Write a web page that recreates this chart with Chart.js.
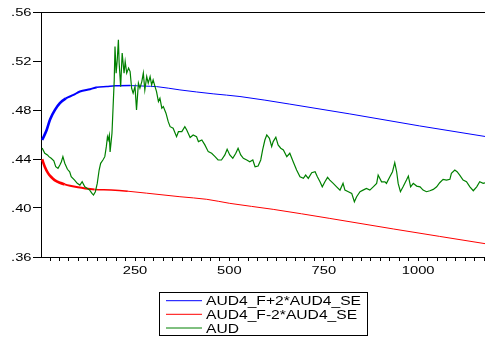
<!DOCTYPE html>
<html>
<head>
<meta charset="utf-8">
<script src="https://cdn.jsdelivr.net/npm/chart.js@4.4.1/dist/chart.umd.min.js"></script>
<style>
  html, body { margin: 0; padding: 0; background: #fff; }
  canvas { display: block; }
</style>
</head>
<body>
<canvas id="c" width="485" height="338"></canvas>
<script>
// Axis ticks
const xTickLabels = [250, 500, 750, 1000];
const yTickValues = [0.36, 0.40, 0.44, 0.48, 0.52, 0.56];

// Series names and colours
const seriesNames = ['AUD4_F+2*AUD4_SE', 'AUD4_F-2*AUD4_SE', 'AUD'];
const seriesColors = ['#0000ff', '#ff0000', '#008000'];

// Upper band: forecast + 2 s.e.
const upperIdx  = [4, 16, 25, 38, 51, 67, 87, 104, 131, 149, 175, 197, 237, 276, 307, 369, 457, 528, 660, 819, 1004, 1177];
const upperVals = [0.4555, 0.4637, 0.4723, 0.4801, 0.4856, 0.4895, 0.4923, 0.4951, 0.4970, 0.4985, 0.4991, 0.4997,
                   0.4999, 0.4995, 0.4991, 0.4964, 0.4932, 0.4910, 0.4848, 0.4768, 0.4670, 0.4584];

// Lower band: forecast - 2 s.e.
const lowerIdx  = [4, 11, 20, 28, 37, 51, 64, 78, 99, 118, 143, 187, 231, 281, 369, 440, 501, 616, 766, 934, 1057, 1177];
const lowerVals = [0.4398, 0.4337, 0.4283, 0.4253, 0.4228, 0.4206, 0.4193, 0.4182, 0.4169, 0.4160, 0.4152, 0.4147,
                   0.4137, 0.4121, 0.4092, 0.4071, 0.4038, 0.3989, 0.3915, 0.3829, 0.3768, 0.3709];

// Observed AUD
const audIdx = [
  4, 11, 18, 22, 28, 35, 40, 46, 51, 55,
  59, 64, 71, 77, 81, 90, 97, 104, 110, 117,
  124, 130, 136, 140, 145, 150, 155, 159, 165, 170,
  174, 177, 179, 182, 184, 189, 192, 195, 197, 200,
  203, 206, 208, 212, 216, 221, 224, 228, 233, 237,
  241, 245, 250, 254, 259, 263, 268, 272, 276, 281,
  285, 290, 294, 298, 303, 307, 312, 316, 321, 325,
  332, 338, 343, 351, 360, 365, 374, 382, 387, 396,
  404, 413, 418, 427, 435, 444, 453, 462, 470, 479,
  488, 494, 501, 509, 517, 523, 530, 537, 546, 554,
  562, 568, 576, 583, 588, 594, 599, 606, 612, 616,
  623, 629, 636, 643, 652, 660, 669, 678, 687, 696,
  702, 709, 718, 727, 733, 740, 746, 753, 760, 766,
  775, 784, 793, 801, 806, 815, 824, 831, 837, 846,
  854, 863, 872, 881, 890, 894, 903, 912, 916, 925,
  932, 938, 943, 947, 953, 960, 969, 974, 980, 987,
  996, 1005, 1013, 1022, 1031, 1040, 1049, 1057, 1066, 1075,
  1084, 1088, 1097, 1103, 1110, 1119, 1128, 1137, 1146, 1155,
  1163, 1172, 1177
];
const audVals = [
  0.4490, 0.4447, 0.4433, 0.4419, 0.4406, 0.4386, 0.4337, 0.4324, 0.4351, 0.4378,
  0.4419, 0.4365, 0.4316, 0.4296, 0.4255, 0.4228, 0.4201, 0.4187, 0.4214, 0.4173,
  0.4160, 0.4146, 0.4119, 0.4106, 0.4133, 0.4201, 0.4310, 0.4365, 0.4392, 0.4419,
  0.4501, 0.4580, 0.4555, 0.4596, 0.4457, 0.4610, 0.4828, 0.5046, 0.5319, 0.5101,
  0.5210, 0.5373, 0.5183, 0.4991, 0.5265, 0.5101, 0.5196, 0.5101, 0.5142, 0.5114,
  0.4978, 0.4937, 0.4991, 0.4801, 0.5019, 0.4978, 0.5032, 0.5101, 0.4964, 0.5073,
  0.5019, 0.5073, 0.5005, 0.5046, 0.4991, 0.4950, 0.4869, 0.4896, 0.4815, 0.4828,
  0.4774, 0.4705, 0.4664, 0.4651, 0.4582, 0.4623, 0.4623, 0.4664, 0.4637, 0.4576,
  0.4596, 0.4582, 0.4542, 0.4555, 0.4515, 0.4460, 0.4447, 0.4419, 0.4392, 0.4392,
  0.4433, 0.4479, 0.4433, 0.4406, 0.4447, 0.4488, 0.4433, 0.4406, 0.4392, 0.4378,
  0.4392, 0.4337, 0.4343, 0.4392, 0.4474, 0.4555, 0.4596, 0.4569, 0.4501, 0.4542,
  0.4578, 0.4515, 0.4488, 0.4474, 0.4419, 0.4447, 0.4378, 0.4310, 0.4255, 0.4242,
  0.4269, 0.4242, 0.4288, 0.4296, 0.4255, 0.4214, 0.4173, 0.4214, 0.4250, 0.4228,
  0.4201, 0.4173, 0.4146, 0.4201, 0.4146, 0.4133, 0.4119, 0.4051, 0.4092, 0.4133,
  0.4146, 0.4160, 0.4146, 0.4173, 0.4201, 0.4269, 0.4214, 0.4214, 0.4201, 0.4255,
  0.4296, 0.4370, 0.4296, 0.4201, 0.4133, 0.4173, 0.4228, 0.4261, 0.4173, 0.4201,
  0.4179, 0.4173, 0.4146, 0.4133, 0.4141, 0.4152, 0.4173, 0.4206, 0.4234, 0.4228,
  0.4234, 0.4283, 0.4310, 0.4296, 0.4269, 0.4228, 0.4214, 0.4173, 0.4141, 0.4173,
  0.4214, 0.4201, 0.4206
];

const X_MIN = 1, X_MAX = 1177;

function pairs(xs, ys) {
  return xs.map((x, i) => ({ x: x, y: ys[i] }));
}

// The band curves are drawn heavier over the first observations
function bandWidth(ctx) {
  const x = ctx.p0.parsed.x;
  return x < 60 ? 2.6 : x < 140 ? 2.0 : x < 230 ? 1.5 : 1;
}

// Minor tick marks every 25 observations
const minorTicks = [];
for (let v = 25; v < X_MAX; v += 25) minorTicks.push(v);

// Text in this chart is set wide, so it is drawn with a horizontal stretch
function drawStretched(ctx, text, x, y, align, sx) {
  ctx.save();
  ctx.translate(x, y);
  ctx.scale(sx, 1);
  ctx.textAlign = align;
  ctx.fillText(text, 0, 0);
  ctx.restore();
}

const FONT = '"Liberation Sans", Arial, Helvetica, sans-serif';

const decorPlugin = {
  id: 'decor',
  afterDraw(chart) {
    const ctx = chart.ctx;
    const a = chart.chartArea;
    const xs = chart.scales.x, ys = chart.scales.y;
    ctx.save();

    // top edge of the frame
    ctx.strokeStyle = '#000';
    ctx.lineWidth = 1;
    ctx.beginPath();
    ctx.moveTo(a.left, Math.round(a.top) + 0.5);
    ctx.lineTo(a.right, Math.round(a.top) + 0.5);
    ctx.stroke();

    // tick labels
    ctx.fillStyle = '#000';
    ctx.font = '11.5px ' + FONT;
    ctx.textBaseline = 'alphabetic';
    yTickValues.forEach(v => {
      const py = ys.getPixelForValue(v);
      drawStretched(ctx, v.toFixed(2).replace(/^0/, ''), 31.5, py + 4.1, 'right', 1.28);
    });
    xTickLabels.forEach(v => {
      const px = xs.getPixelForValue(v);
      drawStretched(ctx, String(v), px, 273.5, 'center', 1.28);
    });

    // legend box
    const box = { x: 159.5, y: 292.5, w: 208, h: 43 };
    ctx.strokeStyle = '#000';
    ctx.lineWidth = 1;
    ctx.strokeRect(box.x, box.y, box.w, box.h);
    ctx.font = '12.5px ' + FONT;
    const rows = [300.7, 314.3, 328.0];
    chart.data.datasets.forEach((ds, i) => {
      const ry = rows[i];
      ctx.strokeStyle = ds.borderColor;
      ctx.lineWidth = 1;
      ctx.beginPath();
      ctx.moveTo(166, ry);
      ctx.lineTo(202, ry);
      ctx.stroke();
      ctx.fillStyle = '#000';
      drawStretched(ctx, ds.label, 206, ry + 4.5, 'left', 1.25);
    });

    ctx.restore();
  }
};

new Chart(document.getElementById('c'), {
  type: 'line',
  data: {
    datasets: [
      {
        label: seriesNames[0],
        data: pairs(upperIdx, upperVals),
        borderColor: seriesColors[0],
        borderWidth: 1,
        pointRadius: 0,
        cubicInterpolationMode: 'monotone',
        segment: { borderWidth: bandWidth },
        order: 1
      },
      {
        label: seriesNames[1],
        data: pairs(lowerIdx, lowerVals),
        borderColor: seriesColors[1],
        borderWidth: 1,
        pointRadius: 0,
        cubicInterpolationMode: 'monotone',
        segment: { borderWidth: bandWidth },
        order: 2
      },
      {
        label: seriesNames[2],
        data: pairs(audIdx, audVals),
        borderColor: seriesColors[2],
        borderWidth: 1.2,
        pointRadius: 0,
        tension: 0,
        order: 0
      }
    ]
  },
  options: {
    responsive: false,
    animation: false,
    devicePixelRatio: 1,
    layout: { padding: { top: 12, left: 0, right: 0, bottom: 0 } },
    plugins: { legend: { display: false }, tooltip: { enabled: false } },
    scales: {
      x: {
        type: 'linear',
        min: X_MIN,
        max: X_MAX,
        afterBuildTicks: s => { s.ticks = minorTicks.map(v => ({ value: v })); },
        afterFit: s => { s.height = 81; },
        ticks: { display: false },
        grid: { drawOnChartArea: false, drawTicks: true, tickLength: 4, color: '#000', tickColor: '#000' },
        border: { display: true, color: '#000', width: 1 }
      },
      y: {
        type: 'linear',
        min: 0.36,
        max: 0.56,
        afterBuildTicks: s => { s.ticks = yTickValues.map(v => ({ value: v })); },
        afterFit: s => { s.width = 41; },
        ticks: { display: false },
        grid: { drawOnChartArea: false, drawTicks: true, tickLength: 8, color: '#000', tickColor: '#000' },
        border: { display: true, color: '#000', width: 1 }
      }
    }
  },
  plugins: [decorPlugin]
});
</script>
</body>
</html>
